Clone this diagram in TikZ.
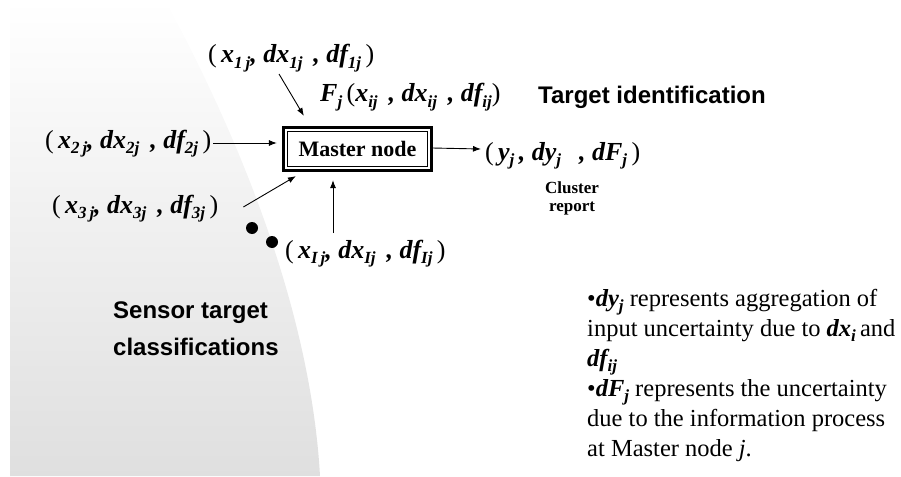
\documentclass[tikz,border=0pt]{standalone}
\usepackage{fontspec}
\setmainfont{Liberation Serif}
\newfontfamily\headfont{Liberation Sans}
\usetikzlibrary{arrows.meta,calc}

% lowered subscript set as ordinary text
\newcommand\lowsub[1]{\raisebox{-5.5pt}{\fontsize{17}{17}\selectfont #1}}
\newcommand\notesub[1]{\raisebox{-5pt}{\fontsize{17}{17}\selectfont #1}}
\newcommand\rp[1]{{\normalfont #1}}

\begin{document}
\begin{tikzpicture}[x=1pt,y=-1pt,
  tuple/.style={font=\fontsize{26}{26}\selectfont\bfseries\itshape, inner sep=0, anchor=base west},
  master/.style={draw, line width=1.2pt, minimum width=140pt, minimum height=35pt, inner sep=0,
                 font=\fontsize{22}{22}\selectfont\bfseries},
  heading/.style={font=\fontsize{24}{24}\selectfont\headfont\bfseries, inner sep=0, anchor=base west},
  small/.style={font=\fontsize{17}{17}\selectfont\bfseries, inner sep=0, anchor=base},
  note/.style={font=\fontsize{24.5}{24.5}\selectfont, inner sep=0, anchor=base west},
  arr/.style={line width=0.9pt, -{Latex[length=8pt,width=6pt]}},
  dot/.style={circle, fill=black, minimum size=12pt, inner sep=0}]
\useasboundingbox (0,0) rectangle (901,476);

% shaded sensor field on the left
\shade[top color=white, bottom color=gray!25]
  (10,0) -- (165,0) .. controls (230,120) and (310,300) .. (320,476) -- (10,476) -- cycle;

% master node with its double frame
\node[master] (m) at (357.5,149) {Master node};
\draw[line width=2.5pt] ($(m.north west)+(-3.5,-3.5)$) rectangle ($(m.south east)+(3.5,3.5)$);

% inputs
\node[tuple] (t1) at (208,63)
  {\rp{(}\,x\lowsub{1\,j}, dx\lowsub{1j}\, , df\lowsub{1j}\,\rp{)}};
\node[tuple] (t2) at (45,148)
  {\rp{(}\,x\lowsub{2\,j}, dx\lowsub{2j}\, , df\lowsub{2j}\,\rp{)}};
\node[tuple] (t3) at (52,213)
  {\rp{(}\,x\lowsub{3\,j}, dx\lowsub{3j}\, , df\lowsub{3j}\,\rp{)}};
\node[tuple] (tI) at (285,258)
  {\rp{(}\,x\lowsub{I\,j}, dx\lowsub{Ij}\, , df\lowsub{Ij}\,\rp{)}};
\node[tuple] (fj) at (320,102)
  {F\lowsub{j}\,\rp{(}x\lowsub{ij}\, , dx\lowsub{ij}\, , df\lowsub{ij}\rp{)}};

% output
\node[tuple] (to) at (485,160)
  {\rp{(}\,y\lowsub{j}\,, dy\lowsub{j}\;\, , dF\lowsub{j}\,\rp{)}};
\node[small] (cl) at (572,193) {Cluster};
\node[small] (rp) at (572,211) {report};

% ellipsis dots
\node[dot] (d1) at (252,228) {};
\node[dot] (d2) at (272,242) {};

% connectors
\draw[arr] ($(t1.base west)+(71,11)$) -- ($(m.north west)+(17,-15)$);
\draw[arr] ($(t2.base east)+(2,-5)$) -- ($(m.west)+(-10,-6)$);
\draw[arr] ($(t3.base east)+(25,-6)$) -- ($(m.south west)+(9,9)$);
\draw[arr] ($(tI.base west)+(48,-25)$) -- ($(m.south)+(-24.5,13)$);
\draw[arr] ($(m.east)+(4,-1)$) -- ($(to.base west)+(-4,-11)$);

% headings
\node[heading] (h1) at (538,104) {Target identification};
\node[heading] (h2) at (113,318) {Sensor target};
\node[heading] (h3) at (113,355) {classifications};

% notes
\node[note] (n1) at (587,306) {\textbullet\textbf{\textit{dy\notesub{j}}} represents aggregation of};
\node[note] (n2) at (587,336) {input uncertainty due to \textbf{\textit{dx\notesub{i}}}\,and};
\node[note] (n3) at (587,366) {\textbf{\textit{df\notesub{ij}}}};
\node[note] (n4) at (587,396) {\textbullet\textbf{\textit{dF\notesub{j}}} represents the uncertainty};
\node[note] (n5) at (587,426) {due to the information process};
\node[note] (n6) at (587,456) {at Master node \textit{j}.};
\end{tikzpicture}
\end{document}
